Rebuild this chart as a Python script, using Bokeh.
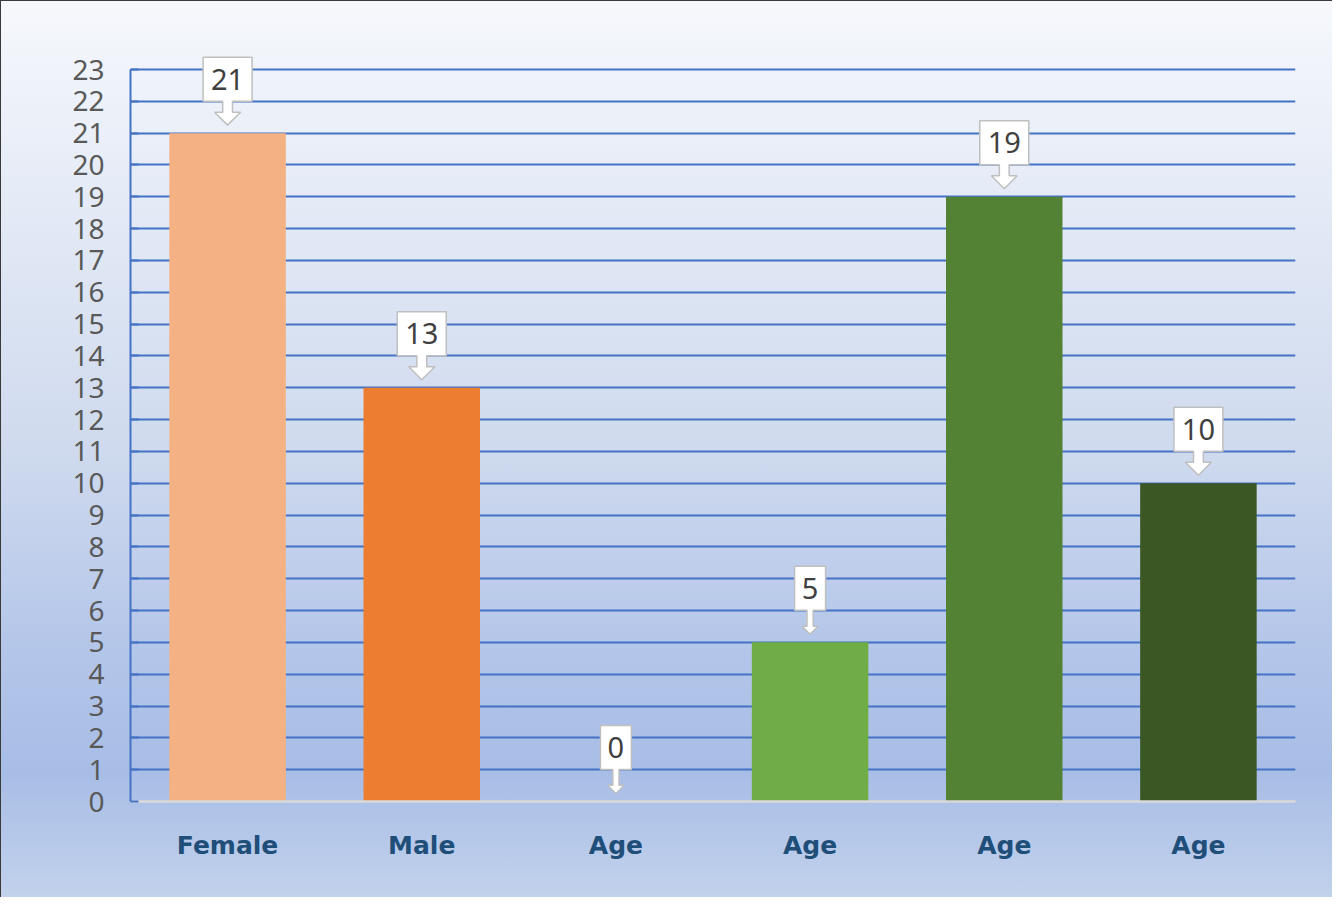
from bokeh.plotting import figure
from bokeh.models import FixedTicker, Range1d, ColumnDataSource
from bokeh.core.properties import value
from bokeh.embed import file_html
from bokeh.resources import INLINE

# ---- data ----
categories = ["Female", "Male", "Age", "Age", "Age", "Age"]
counts = [21, 13, 0, 5, 19, 10]
bar_colors = ["#F4B183", "#ED7D31", "#A9D18E", "#70AD47", "#548235", "#3A5724"]
y_ticks = list(range(0, 24))

# ---- layout ----
W, H = 1332, 897
EXTRA = 18                      # px of headroom above the top gridline for callouts
BL, BR, BT, BB = 129, 38, 68 - EXTRA, 97
FW, FH = W - BL - BR, H - BT - BB
YMAX = 23
NCAT = len(categories)
px_y = (FH - EXTRA) / YMAX      # pixels per data unit (y)
px_x = FW / NCAT                # pixels per data unit (x)
YTOP = YMAX + EXTRA / px_y

p = figure(width=W, height=H, output_backend="svg", toolbar_location=None,
           x_range=Range1d(0, NCAT), y_range=Range1d(0, YTOP),
           min_border_left=BL, min_border_right=BR, min_border_top=BT, min_border_bottom=BB)
p.styles = {
    "background": "linear-gradient(to bottom, #f6f8fc 0%, #e6ecf7 20%, #cfdaee 50%, #b4c6e9 72%, #a8bde6 86%, #c2d2ec 100%)",
    "border-top": "1px solid #3a3a3a",
    "border-left": "1px solid #3a3a3a",
}
p.background_fill_alpha = 0
p.border_fill_alpha = 0
p.outline_line_color = None

xs = [i + 0.5 for i in range(NCAT)]
src = ColumnDataSource(dict(x=xs, top=counts, color=bar_colors, cat=categories))

# grid
p.xgrid.visible = False
p.ygrid.ticker = FixedTicker(ticks=y_ticks)
p.ygrid.grid_line_color = "#4472C4"
p.ygrid.grid_line_width = 2

p.vbar(x="x", top="top", bottom=0, width=0.6, fill_color="color", line_color=None, source=src)

# y axis
p.yaxis.ticker = FixedTicker(ticks=y_ticks)
p.yaxis.bounds = (0, YMAX)
p.yaxis.axis_line_color = "#4472C4"
p.yaxis.axis_line_width = 2
p.yaxis.major_tick_in = 8
p.yaxis.major_tick_out = 0
p.yaxis.major_tick_line_color = "#4472C4"
p.yaxis.major_tick_line_width = 2
p.yaxis.minor_tick_line_color = None
p.yaxis.major_label_text_font = "Noto Sans"
p.yaxis.major_label_text_font_size = "28px"
p.yaxis.major_label_text_color = "#595959"
p.yaxis.major_label_standoff = 26

# x axis
p.xaxis.ticker = FixedTicker(ticks=xs)
p.xaxis.major_label_overrides = {x: c for x, c in zip(xs, categories)}
p.xaxis.axis_line_color = "#D9D9D9"
p.xaxis.axis_line_width = 2.5
p.xaxis.major_tick_line_color = None
p.xaxis.minor_tick_line_color = None
p.xaxis.major_label_text_font = "DejaVu Sans"
p.xaxis.major_label_text_font_style = "bold"
p.xaxis.major_label_text_font_size = "25px"
p.xaxis.major_label_text_color = "#1F4E79"
p.xaxis.major_label_standoff = 23

# callout labels
pxs, pys, tx, ty, tt = [], [], [], [], []
for x, v in zip(xs, counts):
    label = str(v)
    bw = 31 if len(label) == 1 else 49
    bh = 44
    tip = 8            # px gap between arrow tip and bar top
    arrow = 24         # px from tip to box bottom
    head_w = bw * 0.53
    shaft_w = bw * 0.2
    head_h = head_w / 2
    pts = [
        (-bw / 2, tip + arrow + bh), (bw / 2, tip + arrow + bh),
        (bw / 2, tip + arrow), (shaft_w / 2, tip + arrow),
        (shaft_w / 2, tip + head_h), (head_w / 2, tip + head_h),
        (0, tip),
        (-head_w / 2, tip + head_h), (-shaft_w / 2, tip + head_h),
        (-shaft_w / 2, tip + arrow), (-bw / 2, tip + arrow),
    ]
    pxs.append([x + dx / px_x for dx, dy in pts])
    pys.append([v + dy / px_y for dx, dy in pts])
    tx.append(x)
    ty.append(v + (tip + arrow + bh / 2) / px_y)
    tt.append(label)

p.patches(pxs, pys, fill_color="white", line_color="#BFBFBF", line_width=1.5)
p.text(x=tx, y=ty, text=tt, text_font=value("Noto Sans"), text_font_size="29px",
       text_color="#404040", text_align="center", text_baseline="middle")

open("out.html", "w").write(file_html(p, INLINE))
